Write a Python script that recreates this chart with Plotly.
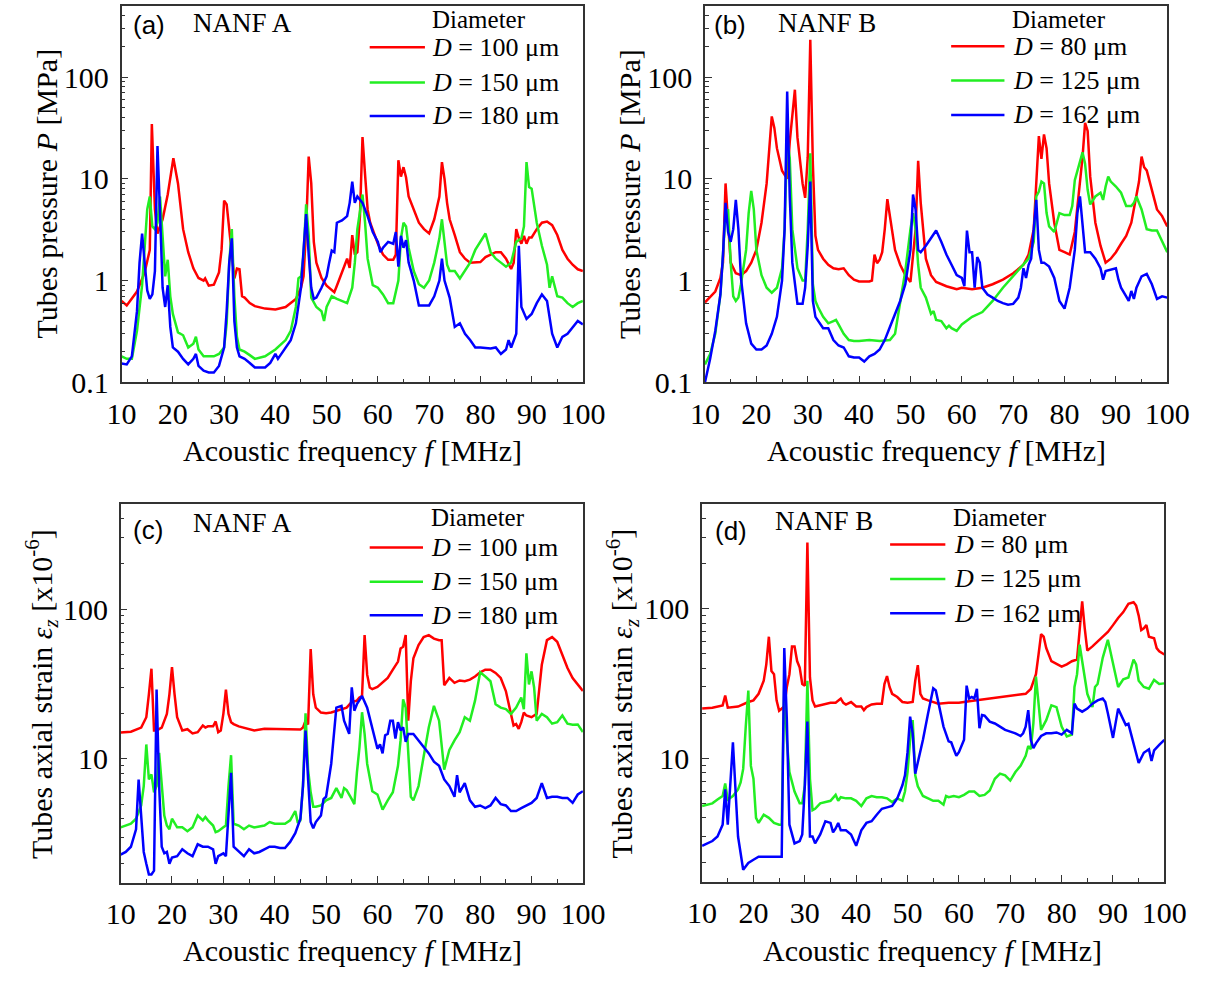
import math
import plotly.graph_objects as go

# ---------------- data ----------------
# Panel (a) NANF A, tubes pressure P [MPa]
f_a_100 = [10, 11, 13, 14.5, 15.5, 15.9, 16.5, 17, 18, 19, 20.1, 21, 22, 23, 24, 25, 26, 26.3, 27, 28, 29, 29.5, 30, 30.5, 31, 32, 32.5, 33, 33.5, 34, 35, 36, 38, 40, 42, 43, 44, 45, 45.5, 46, 46.5, 47, 47.5, 48, 49, 50, 51, 51.5, 52, 53, 54, 54.5, 55, 55.5, 56, 56.5, 57, 57.5, 58, 58.5, 59, 60, 61, 62, 63, 63.5, 64, 64.5, 65, 65.5, 66, 67, 68, 69, 70, 71, 72, 72.5, 73, 73.5, 74, 75, 76, 77, 78, 80, 81, 82, 83, 84, 85, 86, 86.5, 87, 87.5, 88, 88.5, 89, 89.5, 90, 91, 92, 93, 94, 95, 96, 97, 98, 99, 100]
p_a_100 = [0.63, 0.57, 0.78, 1.2, 2.0, 34.5, 5.0, 2.9, 4.0, 7.0, 15.9, 9.0, 3.2, 1.9, 1.32, 1.06, 1.0, 1.05, 0.89, 0.91, 1.2, 2.0, 6.1, 5.6, 3.2, 1.05, 1.31, 1.29, 0.7, 0.68, 0.6, 0.56, 0.53, 0.52, 0.55, 0.6, 0.66, 0.85, 1.1, 3.2, 16.5, 9.0, 2.4, 1.5, 1.06, 0.89, 0.80, 0.77, 0.89, 1.24, 1.64, 1.33, 2.8, 1.8, 1.9, 4.3, 25.7, 11, 5, 3.7, 3.2, 2.3, 1.8, 1.6, 1.6, 1.8, 15.2, 10.5, 13, 10.3, 6.7, 5.0, 3.7, 3.2, 2.9, 4.0, 6.7, 14.6, 10, 5.8, 4.0, 2.8, 1.9, 1.64, 1.5, 1.52, 1.7, 1.8, 1.9, 1.9, 1.64, 1.3, 1.5, 3.2, 2.6, 2.3, 2.75, 2.3, 2.65, 2.65, 3.2, 3.7, 3.8, 3.5, 2.8, 2.0, 1.64, 1.43, 1.29, 1.24]

f_a_150 = [10, 11, 12, 13, 14, 14.5, 15, 15.5, 16, 16.5, 17, 17.5, 18, 18.5, 19, 19.5, 20, 21, 22, 23, 24, 24.5, 25, 26, 28, 29, 30, 30.5, 31, 31.5, 32, 32.5, 33, 34, 35, 36, 38, 40, 42, 43, 44, 44.5, 45, 45.5, 46, 46.5, 47, 47.5, 48, 49, 49.5, 50, 51, 52, 53, 54, 55, 55.5, 56, 57, 57.5, 58, 59, 60, 61, 62, 63, 64, 64.5, 65, 65.5, 66, 67, 68, 69, 70, 71, 72, 72.5, 73, 73.5, 74, 75, 76, 77, 78, 79, 80, 81, 82, 83, 84, 85, 86, 87, 88, 88.5, 89, 89.5, 90, 91, 92, 93, 93.5, 94, 95, 96, 97, 98, 99, 100]
p_a_150 = [0.18, 0.17, 0.17, 0.32, 0.9, 2.2, 5, 6.7, 3.4, 3.2, 3.7, 6.7, 2.8, 1.1, 1.6, 0.7, 0.47, 0.31, 0.29, 0.22, 0.24, 0.28, 0.21, 0.18, 0.18, 0.19, 0.22, 0.38, 1.5, 3.2, 0.7, 0.28, 0.21, 0.2, 0.185, 0.17, 0.18, 0.21, 0.26, 0.32, 0.55, 1.05, 1.1, 1.8, 5.6, 2.8, 0.68, 0.6, 0.55, 0.5, 0.4, 0.55, 0.7, 0.66, 0.63, 0.6, 0.85, 1.5, 3.2, 7.0, 3.7, 1.64, 0.9, 0.85, 0.73, 0.6, 0.6, 1.0, 2.6, 3.7, 3.4, 2.1, 1.24, 0.92, 0.85, 1.0, 1.5, 2.6, 4.0, 2.4, 1.43, 1.24, 1.24, 1.05, 1.24, 1.5, 2.0, 2.4, 2.9, 1.9, 1.64, 1.5, 1.37, 1.5, 2.4, 2.6, 3.4, 14.6, 8.3, 8.0, 3.7, 2.2, 1.43, 0.85, 1.1, 0.7, 0.68, 0.6, 0.55, 0.6, 0.63]

f_a_180 = [10, 11, 12, 13, 13.5, 14, 14.5, 15, 15.5, 16, 16.5, 17, 17.5, 18, 18.5, 19, 19.5, 20, 21, 22, 23, 24, 24.5, 25, 26, 27, 28, 29, 30, 30.5, 31, 31.5, 32, 32.5, 33, 34, 35, 36, 38, 39, 40, 40.5, 41, 42, 43, 44, 45, 45.5, 46, 46.5, 47, 47.5, 48, 49, 50, 50.5, 51, 51.5, 52, 53, 54, 54.5, 55, 55.5, 56, 57, 58, 59, 60, 60.5, 61, 62, 63, 63.5, 64, 64.5, 65, 65.5, 66, 67, 68, 69, 70, 71, 72, 72.5, 73, 74, 74.5, 75, 76, 77, 78, 79, 80, 82, 83, 84, 85, 85.5, 86, 87, 87.5, 88, 89, 90, 91, 92, 93, 94, 95, 96, 97, 98, 99, 100]
p_a_180 = [0.153, 0.15, 0.18, 0.5, 1.5, 2.9, 1.5, 0.8, 0.66, 0.73, 1.24, 21, 4.6, 0.85, 0.55, 0.9, 0.35, 0.22, 0.2, 0.17, 0.15, 0.17, 0.19, 0.145, 0.13, 0.125, 0.125, 0.145, 0.22, 0.5, 1.5, 2.6, 0.4, 0.22, 0.18, 0.17, 0.155, 0.14, 0.14, 0.155, 0.19, 0.17, 0.185, 0.22, 0.26, 0.38, 0.85, 2.0, 4.5, 1.8, 0.85, 0.66, 0.68, 0.85, 1.1, 1.5, 1.97, 1.9, 3.7, 3.9, 4.3, 5.8, 9.4, 5.8, 6.7, 5.8, 4.3, 3.0, 2.4, 1.9, 2.1, 2.4, 2.3, 3.0, 1.37, 2.75, 2.1, 2.5, 1.5, 1.0, 0.57, 0.57, 0.57, 0.7, 1.0, 1.64, 1.0, 0.68, 0.47, 0.35, 0.38, 0.3, 0.26, 0.22, 0.22, 0.215, 0.22, 0.19, 0.21, 0.26, 0.22, 0.3, 2.2, 0.55, 0.42, 0.47, 0.6, 0.73, 0.63, 0.3, 0.22, 0.28, 0.3, 0.35, 0.4, 0.37]

# Panel (b) NANF B, tubes pressure P [MPa]
f_b_80 = [10, 12, 13, 13.5, 14, 14.5, 15, 16, 17, 18, 19, 20, 21, 22, 23, 23.5, 24, 25, 26, 26.5, 27, 27.5, 28, 29, 29.5, 30, 30.5, 31, 31.5, 32, 33, 34, 35, 36, 37, 38, 39, 40, 41, 42, 42.5, 43, 43.5, 44, 44.5, 45, 45.5, 46, 47, 48, 49, 50, 50.5, 51, 51.5, 52, 53, 54, 55, 56, 57, 58, 59, 60, 62, 64, 66, 68, 70, 72, 73, 74, 74.5, 75, 75.5, 76, 76.5, 77, 78, 79, 80, 81, 82, 83, 83.5, 84, 84.5, 85, 86, 87, 88, 89, 90, 91, 92, 93, 94, 94.5, 95, 95.5, 96, 97, 98, 99, 100]
p_b_80 = [0.61, 0.78, 1.06, 1.5, 9.0, 3.2, 1.5, 1.18, 1.13, 1.24, 1.5, 2.0, 3.7, 9.0, 41, 31.6, 20, 12, 10, 23, 45.6, 75, 25.5, 9, 6.5, 16.3, 232, 14, 2.75, 2.0, 1.64, 1.43, 1.32, 1.29, 1.32, 1.13, 1.02, 0.98, 0.98, 0.98, 1.0, 1.8, 1.48, 1.6, 1.9, 3.2, 6.3, 4.3, 2.0, 1.43, 1.13, 0.97, 1.64, 3.2, 15, 5.8, 1.64, 1.13, 0.97, 0.92, 0.88, 0.85, 0.82, 0.85, 0.82, 0.85, 0.92, 1.02, 1.18, 1.43, 1.8, 3.2, 9.0, 26.3, 15.7, 27.3, 20, 9, 3.7, 2.0, 1.9, 1.8, 3.0, 9, 16.3, 35.4, 29.5, 10.5, 3.7, 2.2, 1.5, 1.64, 1.9, 2.3, 2.75, 3.7, 6.7, 9.4, 16.5, 13, 12.1, 7.8, 5.0, 4.3, 3.4]

f_b_125 = [10, 11, 12, 13, 13.5, 14, 14.5, 15, 15.5, 16, 16.5, 17, 18, 18.5, 19, 19.5, 20, 21, 22, 23, 24, 25, 25.5, 26, 26.5, 27, 28, 29, 29.5, 30, 30.5, 31, 31.5, 32, 33, 34, 35, 35.5, 36, 37, 38, 39, 40, 42, 44, 46, 47, 48, 49, 50, 50.5, 51, 51.5, 52, 53, 54, 54.5, 55, 56, 57, 57.5, 58, 59, 60, 62, 64, 66, 68, 70, 72, 73, 74, 74.5, 75, 75.5, 76, 76.5, 77, 78, 79, 80, 81, 81.5, 82, 83, 83.5, 84, 84.5, 85, 86, 87, 87.5, 88, 88.5, 89, 90, 91, 92, 93, 93.5, 94, 95, 96, 97, 98, 99, 100]
p_b_125 = [0.15, 0.19, 0.3, 0.73, 1.8, 4.6, 5.0, 1.5, 0.7, 0.63, 0.68, 0.92, 2.0, 4.6, 7.6, 5.0, 2.0, 1.13, 0.85, 0.76, 0.85, 1.32, 3.2, 25.5, 16, 3.2, 1.32, 1.0, 1.0, 3.2, 17.8, 0.92, 0.63, 0.55, 0.44, 0.38, 0.4, 0.41, 0.37, 0.3, 0.26, 0.255, 0.255, 0.26, 0.255, 0.26, 0.3, 0.6, 1.24, 3.2, 4.6, 3.2, 1.43, 0.85, 0.68, 0.47, 0.5, 0.41, 0.4, 0.34, 0.36, 0.34, 0.32, 0.37, 0.44, 0.49, 0.63, 0.85, 1.1, 1.43, 1.64, 2.4, 6.7, 7.5, 9.4, 9, 4.6, 3.4, 3.0, 4.6, 4.4, 4.4, 5.4, 9.7, 15.2, 18.2, 14.1, 7.8, 5.6, 6.7, 7.3, 6.2, 8.4, 10.5, 9.4, 8.4, 7.3, 5.4, 5.4, 5.8, 6.7, 5.0, 3.2, 3.1, 3.1, 2.4, 1.9]

f_b_162 = [10, 11, 12, 13, 13.5, 14, 14.5, 15, 15.5, 16, 16.5, 17, 18, 19, 20, 21, 22, 23, 24, 25, 25.5, 26, 26.5, 27, 28, 29, 29.5, 30, 30.5, 31, 31.5, 32, 33, 34, 35, 36, 37, 38, 39, 40, 41, 42, 43, 44, 45, 46, 47, 48, 49, 50, 50.5, 51, 51.5, 52, 53, 54, 55, 56, 57, 58, 59, 60, 60.5, 61, 61.5, 62, 62.5, 63, 63.5, 64, 65, 66, 67, 68, 69, 70, 71, 71.5, 72, 72.5, 73, 73.5, 74, 74.5, 75, 75.5, 76, 77, 78, 79, 80, 81, 82, 82.5, 83, 83.5, 84, 85, 86, 87, 87.5, 88, 89, 90, 90.5, 91, 92, 92.5, 93, 93.5, 94, 95, 96, 97, 98, 99, 100]
p_b_162 = [0.1, 0.17, 0.32, 0.73, 1.8, 5.8, 3.0, 2.4, 3.2, 6.2, 3.2, 1.06, 0.38, 0.24, 0.21, 0.21, 0.23, 0.3, 0.44, 1.0, 3.2, 72, 6.7, 1.5, 0.59, 0.59, 0.85, 2.2, 9.4, 0.63, 0.44, 0.4, 0.34, 0.34, 0.26, 0.23, 0.22, 0.18, 0.175, 0.175, 0.16, 0.18, 0.19, 0.21, 0.26, 0.35, 0.47, 0.63, 0.92, 2.0, 7.0, 5.0, 2.0, 1.9, 2.2, 2.6, 3.1, 2.4, 1.8, 1.43, 1.13, 1.06, 0.88, 3.1, 1.9, 1.9, 0.85, 1.7, 1.5, 0.85, 0.73, 0.68, 0.63, 0.6, 0.58, 0.59, 0.68, 0.85, 1.32, 1.06, 1.43, 1.64, 3.2, 6.2, 2.0, 1.5, 1.5, 1.37, 1.06, 0.63, 0.53, 0.85, 2.0, 4.6, 6.7, 3.2, 1.9, 1.9, 1.64, 1.32, 1.02, 1.24, 1.29, 1.32, 1.02, 0.85, 0.7, 0.63, 0.79, 0.66, 0.85, 1.1, 1.16, 0.92, 0.66, 0.7, 0.68]

# Panel (c) NANF A, tubes axial strain [x1e-6]
f_c_100 = [10, 12, 14, 15, 15.5, 16, 16.5, 17, 18, 19, 19.5, 20, 20.5, 21, 22, 23, 24, 25, 26, 26.5, 27, 28, 28.5, 29, 29.5, 30, 30.5, 31, 31.5, 32, 33, 34, 35, 36, 38, 40, 42, 44, 45, 45.5, 46, 46.5, 47, 47.5, 48, 49, 50, 51, 52, 53, 54, 55, 56, 56.5, 57, 57.5, 58, 58.5, 59, 60, 61, 62, 63, 64, 64.5, 65, 65.5, 66, 66.5, 67, 68, 69, 70, 71, 72, 72.5, 73, 74, 75, 76, 77, 78, 79, 80, 81, 82, 83, 84, 85, 86, 86.5, 87, 87.5, 88, 88.5, 89, 90, 91, 91.5, 92, 93, 94, 95, 96, 97, 98, 99, 100]
e_c_100 = [15.0, 15.2, 16.2, 19, 27, 40, 15.5, 15.5, 16.2, 20, 27, 41, 27, 19, 15.5, 15.8, 14.8, 15.1, 16.7, 16.2, 16.5, 16.5, 17.8, 15.1, 15.5, 20, 29, 20, 17.6, 17.1, 16.5, 16.2, 15.9, 15.5, 15.9, 15.8, 15.7, 15.7, 15.7, 16.2, 18, 17, 54, 27, 22, 20.4, 20.2, 20.4, 21, 21.5, 22, 24, 24.5, 25.7, 26.3, 67, 36.5, 30, 29.2, 30.2, 32.2, 34.7, 39.4, 44.6, 54.6, 56, 67, 18, 33, 47, 57.5, 65, 67, 63.5, 62, 62, 31, 34.7, 32.2, 33.4, 33, 33.8, 35.5, 37.8, 39.4, 39.4, 37.5, 34.7, 28.4, 20, 16.7, 17.1, 15.9, 17.6, 20.4, 19.5, 19, 20, 30, 42.5, 62, 65, 60.5, 49.4, 40.4, 34.7, 31.4, 28.4]

f_c_150 = [10, 12, 13, 14, 14.5, 15, 15.5, 16, 16.5, 17, 17.5, 18, 18.5, 19, 19.5, 20, 21, 22, 23, 24, 25, 26, 26.5, 27, 28, 28.5, 29, 30, 30.5, 31, 31.5, 32, 33, 34, 35, 36, 38, 39, 40, 42, 43, 44, 44.5, 45, 45.5, 46, 46.5, 47, 47.5, 48, 49, 50, 51, 52, 53, 53.5, 54, 55, 55.5, 56, 56.5, 57, 57.5, 58, 58.5, 59, 60, 61, 62, 63, 64, 64.5, 65, 65.5, 66, 66.5, 67, 68, 69, 70, 71, 72, 73, 74, 75, 76, 77, 78, 79, 80, 81, 82, 83, 84, 85, 86, 87, 88, 88.5, 89, 89.5, 90, 90.5, 91, 92, 93, 94, 95, 96, 97, 98, 99, 100]
e_c_150 = [3.5, 3.7, 4.0, 4.9, 6.6, 12.5, 7.3, 7.9, 6.0, 6.6, 11.0, 6.6, 4.2, 3.6, 3.4, 4.0, 3.5, 3.5, 3.3, 3.5, 4.2, 3.9, 4.1, 3.9, 3.6, 3.25, 3.3, 3.5, 3.6, 6.6, 10.6, 3.7, 3.6, 3.4, 3.6, 3.5, 3.6, 3.8, 3.7, 3.7, 3.9, 4.5, 3.75, 3.9, 6.6, 20.2, 8.5, 6.0, 4.8, 4.8, 4.9, 5.3, 5.5, 6.4, 5.5, 6.4, 6.2, 5.4, 5.0, 8.1, 12.0, 20.5, 14.7, 9.3, 7.3, 6.1, 5.8, 4.6, 5.3, 6.0, 9.0, 13.3, 25, 22, 11, 5.6, 5.3, 6.6, 10.4, 16.3, 22.6, 18, 8.5, 11.5, 13.3, 15.1, 19, 18, 24.5, 37.8, 35.5, 33, 23.2, 22, 21.5, 20, 22, 25.7, 21.5, 50.6, 31.4, 38.4, 30, 18, 20, 19, 17.2, 17.6, 19.5, 17.2, 16.9, 17.0, 15.1]

f_c_180 = [10, 11, 12, 13, 13.5, 14, 14.5, 15, 15.5, 16, 16.5, 17, 17.5, 18, 18.5, 19, 19.5, 20, 21, 22, 23, 24, 25, 26, 27, 28, 28.5, 29, 30, 30.5, 31, 31.5, 32, 33, 34, 35, 36, 37, 38, 39, 40, 41, 42, 43, 44, 45, 45.5, 46, 46.5, 47, 47.5, 48, 49, 49.5, 50, 51, 52, 53, 53.5, 54, 54.5, 55, 55.5, 56, 57, 58, 59, 60, 60.5, 61, 61.5, 62, 62.5, 63, 63.5, 64, 64.5, 65, 65.5, 66, 67, 68, 69, 70, 71, 72, 73, 74, 75, 75.5, 76, 77, 78, 79, 80, 81, 82, 83, 84, 85, 86, 87, 88, 89, 90, 91, 92, 93, 94, 95, 96, 97, 98, 99, 100]
e_c_180 = [2.3, 2.4, 2.6, 3.4, 7.3, 4.4, 2.4, 2.0, 1.7, 1.7, 1.8, 29, 6.6, 2.6, 2.35, 2.4, 2.0, 2.2, 2.25, 2.5, 2.35, 2.25, 2.7, 2.6, 2.6, 2.5, 2.0, 2.25, 2.35, 2.25, 4.0, 8.1, 2.6, 2.4, 2.25, 2.5, 2.35, 2.4, 2.5, 2.6, 2.6, 2.55, 2.55, 2.8, 3.2, 4.0, 6.6, 15.5, 7.3, 3.8, 3.45, 3.8, 4.2, 5.4, 5.6, 9.3, 22, 22.6, 18, 16.3, 14.7, 30, 21, 23.2, 26.3, 22, 16.3, 11.7, 12.5, 10.9, 14.4, 14.7, 18, 18, 13.7, 17.6, 15.5, 16.3, 13.0, 14.7, 14.7, 13.3, 12.1, 10.9, 9.6, 9.0, 7.3, 6.6, 5.6, 7.8, 6.0, 6.9, 5.3, 4.8, 4.9, 4.7, 4.9, 5.5, 5.0, 4.9, 4.5, 4.5, 4.7, 4.9, 5.1, 5.5, 6.9, 5.5, 5.6, 5.6, 5.5, 5.5, 5.1, 5.8, 6.1]

# Panel (d) NANF B, tubes axial strain [x1e-6]
f_d_80 = [10, 12, 14, 14.5, 15, 17, 19, 20, 21, 22, 22.5, 23, 23.5, 24, 24.5, 25, 26, 26.5, 27, 27.5, 28, 28.5, 29, 29.5, 30, 30.5, 31, 31.5, 32, 33, 34, 35, 36, 37, 37.5, 38, 39, 40, 41, 41.5, 42, 43, 44, 45, 45.5, 46, 46.5, 47, 48, 49, 50, 51, 51.5, 52, 52.5, 53, 54, 55, 56, 58, 60, 62, 64, 66, 68, 70, 72, 73, 74, 75, 75.5, 76, 76.5, 77, 78, 79, 80, 81, 82, 83, 83.5, 84, 84.5, 85, 86, 87, 88, 89, 90, 91, 92, 93, 94, 94.5, 95, 95.5, 96, 96.5, 97, 98, 98.5, 99, 100]
e_d_80 = [21.5, 21.8, 22.6, 26.3, 21.8, 22.2, 23.8, 24.4, 27, 33, 42.5, 65, 38.4, 36.5, 24.4, 20.8, 22.2, 30, 36.5, 56, 56, 44.7, 40.4, 31.4, 30.6, 277, 34.7, 24.4, 22.2, 22.6, 23.2, 23.5, 23.5, 25.1, 23.5, 22.9, 23.8, 22.2, 22.2, 21, 22, 22.9, 23.2, 23.2, 31.4, 35.5, 30, 27, 25.7, 23.8, 23.5, 23.8, 33, 42, 27, 25.1, 24.4, 23.8, 23.2, 23.5, 23.5, 24.1, 24.6, 25.2, 25.7, 26.3, 27, 27, 29.1, 36.5, 49.4, 67.5, 65, 54.6, 44.6, 42.5, 41, 42.5, 44.6, 45.8, 74, 112, 74, 52.5, 56, 60.5, 65, 70, 77.7, 86.8, 95, 108, 110.6, 105, 90, 72, 74, 77.7, 65, 63.5, 54.6, 52, 49.4]

f_d_125 = [10, 12, 13, 14, 14.5, 15, 16, 17, 17.5, 18, 18.5, 19, 19.5, 20, 20.5, 21, 22, 23, 24, 25, 25.5, 26, 26.5, 27, 28, 29, 29.5, 30, 30.5, 31, 31.5, 32, 33, 34, 35, 36, 36.5, 37, 38, 39, 40, 41, 42, 43, 44, 45, 46, 47, 48, 49, 49.5, 50, 50.5, 51, 51.5, 52, 53, 54, 55, 56, 57, 57.5, 58, 59, 60, 61, 62, 63, 64, 65, 66, 67, 68, 69, 70, 71, 72, 73, 73.5, 74, 74.5, 75, 75.5, 76, 77, 78, 79, 80, 81, 82, 82.5, 83, 83.5, 84, 85, 86, 86.5, 87, 88, 89, 90, 91, 92, 93, 94, 94.5, 95, 96, 97, 98, 99, 100]
e_d_125 = [4.8, 5.0, 5.3, 5.6, 6.8, 5.3, 5.6, 6.2, 6.9, 8.5, 16.3, 28.4, 8.9, 7.3, 4.0, 3.7, 4.2, 4.0, 3.7, 3.6, 3.6, 31.4, 13.3, 8.1, 6.0, 5.0, 5.0, 6.6, 33, 7.3, 4.5, 4.6, 5.0, 5.1, 5.2, 5.7, 5.2, 5.5, 5.4, 5.4, 5.2, 4.8, 5.4, 5.6, 5.5, 5.5, 5.4, 5.1, 5.4, 5.2, 6.0, 8.1, 13.3, 18, 7.7, 6.5, 5.6, 5.4, 5.2, 5.2, 4.9, 5.6, 5.5, 5.6, 5.5, 5.7, 6.0, 6.0, 5.6, 5.7, 6.1, 7.3, 7.9, 7.7, 7.1, 8.1, 8.9, 10.4, 12.1, 11.5, 17.2, 35.2, 23.2, 15.5, 18, 22.6, 22, 16.3, 14.0, 14.4, 30, 36.5, 57.5, 44.6, 27, 22, 30, 31.4, 47, 62, 43.5, 30, 33.8, 34.7, 45.8, 42.5, 33, 30, 29.2, 33.4, 31.4, 31.7]

f_d_162 = [10, 12, 13, 14, 14.5, 15, 16, 16.5, 17, 18, 19, 20, 21, 22, 24, 25, 25.5, 26, 26.5, 27, 28, 29, 29.5, 30, 30.5, 31, 31.5, 32, 33, 34, 35, 35.5, 36, 36.5, 37, 38, 39, 40, 41, 42, 43, 44, 45, 46, 47, 48, 49, 49.5, 50, 50.5, 51, 51.5, 52, 53, 54, 55, 55.5, 56, 57, 58, 58.5, 59, 59.5, 60, 61, 61.5, 62, 62.5, 63, 63.5, 64, 64.5, 65, 66, 67, 68, 69, 70, 71, 72, 72.5, 73, 73.5, 74, 74.5, 75, 76, 77, 78, 79, 80, 81, 82, 82.5, 83, 84, 85, 86, 87, 88, 88.5, 89, 90, 91, 92, 92.5, 93, 94, 95, 96, 97, 97.5, 98, 99, 100]
e_d_162 = [2.6, 2.8, 3.0, 3.6, 6.2, 3.6, 12.8, 6.6, 3.0, 1.8, 2.0, 2.1, 2.2, 2.2, 2.2, 2.2, 2.2, 54.6, 18, 3.6, 2.7, 2.8, 3.1, 6.6, 17.6, 3.0, 3.0, 2.7, 3.1, 3.8, 3.7, 3.2, 3.4, 3.7, 3.3, 3.3, 3.1, 2.6, 3.3, 3.7, 3.8, 4.2, 4.6, 4.7, 4.8, 5.4, 6.6, 7.7, 11.0, 19, 14.7, 7.9, 9.3, 13.3, 20, 29.4, 28.4, 23.2, 16.3, 13, 12.8, 11.5, 10.4, 11.0, 13.3, 30.6, 25.1, 25.7, 25.1, 29.1, 15.9, 19.5, 19.3, 17.6, 17.1, 16.3, 15.5, 15.1, 14.7, 14.1, 14.7, 16.3, 21, 13.3, 11.7, 12.6, 14.1, 14.7, 14.7, 14.9, 14.4, 15.5, 14.7, 23.2, 21.5, 20.5, 21.5, 23.2, 24.4, 25.1, 23.8, 20, 13.7, 21.5, 18, 16.7, 17.0, 12.6, 9.3, 10.9, 11.5, 9.6, 11.3, 12.3, 13.3]

x_ticks = [10, 20, 30, 40, 50, 60, 70, 80, 90, 100]
x_minor = [15, 25, 35, 45, 55, 65, 75, 85, 95]
p_ticks = [0.1, 1, 10, 100]
p_ticktext = ["0.1", "1", "10", "100"]
e_ticks = [10, 100]
e_ticktext = ["10", "100"]
labels_A = ["<i>D</i> = 100 μm", "<i>D</i> = 150 μm", "<i>D</i> = 180 μm"]
labels_B = ["<i>D</i> = 80 μm", "<i>D</i> = 125 μm", "<i>D</i> = 162 μm"]

# ---------------- styling ----------------
W, H = 1230, 989
SERIF = "Liberation Serif, Times New Roman, serif"
SANS = "Liberation Sans, Arial, sans-serif"
COLORS = ["#ff0000", "#22ee22", "#0000ff"]
AXC = "#333333"


def PX(x):
    return x / W


def PY(y):
    return 1 - y / H


def log_minor(lo, hi):
    vals = []
    for e in range(-2, 4):
        for k in range(2, 10):
            v = k * 10 ** e
            if lo < v < hi:
                vals.append(v)
    return vals


panels = [
    dict(key="", box=(110, 586, 6, 389), series=[(f_a_100, p_a_100), (f_a_150, p_a_150), (f_a_180, p_a_180)],
         labels=labels_A, yr=(0.1, 500), ticks=(p_ticks, p_ticktext), tag="(a)", fiber="NANF A",
         tagxy=(120, 25), fibxy=(182, 23), diaxy=(428, 20), legx=(366, 423, 428), legy=(48, 84, 118),
         ytitle="Tubes pressure <i>P</i> [MPa]", ytxy=(33, 197), xtxy=(348, 458)),
    dict(key="2", box=(712, 1189, 6, 389), series=[(f_b_80, p_b_80), (f_b_125, p_b_125), (f_b_162, p_b_162)],
         labels=labels_B, yr=(0.1, 500), ticks=(p_ticks, p_ticktext), tag="(b)", fiber="NANF B",
         tagxy=(719, 25), fibxy=(785, 23), diaxy=(1027, 20), legx=(966, 1021, 1028), legy=(47, 82, 117),
         ytitle="Tubes pressure <i>P</i> [MPa]", ytxy=(634, 197), xtxy=(951, 458)),
    dict(key="3", box=(109, 586, 513, 898), series=[(f_c_100, e_c_100), (f_c_150, e_c_150), (f_c_180, e_c_180)],
         labels=labels_A, yr=(1.5, 500), ticks=(e_ticks, e_ticktext), tag="(c)", fiber="NANF A",
         tagxy=(120, 539), fibxy=(182, 532), diaxy=(427, 527), legx=(366, 421, 427), legy=(557, 592, 626),
         ytitle="Tubes axial strain <i>ε<sub>z</sub></i> [x10<sup>-6</sup>]", ytxy=(28, 706), xtxy=(348, 967)),
    dict(key="4", box=(709, 1186, 513, 897), series=[(f_d_80, e_d_80), (f_d_125, e_d_125), (f_d_162, e_d_162)],
         labels=labels_B, yr=(1.5, 500), ticks=(e_ticks, e_ticktext), tag="(d)", fiber="NANF B",
         tagxy=(720, 540), fibxy=(782, 530), diaxy=(966, 527), legx=(903, 960, 967), legy=(554, 589, 624),
         ytitle="Tubes axial strain <i>ε<sub>z</sub></i> [x10<sup>-6</sup>]", ytxy=(627, 706), xtxy=(947, 967)),
]

fig = go.Figure()
annotations = []
shapes = []
layout_axes = {}

for p in panels:
    k = p["key"]
    x0, x1, y0, y1 = p["box"]
    for (fx, vy), col, lab in zip(p["series"], COLORS, p["labels"]):
        if len(fx) != len(vy):
            raise ValueError(f"length mismatch in panel {p['tag']} {lab}: {len(fx)} vs {len(vy)}")
        fig.add_trace(go.Scatter(x=fx, y=vy, mode="lines", name=lab.replace("<i>", "").replace("</i>", ""),
                                 line=dict(color=col, width=2.5), xaxis="x" + k, yaxis="y" + k,
                                 showlegend=False))
    lo, hi = p["yr"]
    tv, tt = p["ticks"]
    layout_axes["xaxis" + k] = dict(
        domain=[PX(x0), PX(x1)], anchor="y" + k, range=[10, 100],
        tickmode="array", tickvals=x_ticks, ticktext=[str(v) for v in x_ticks],
        ticks="inside", ticklen=7, tickwidth=1.2, tickcolor=AXC, ticklabelstandoff=4,
        minor=dict(tickmode="array", tickvals=x_minor, ticks="inside", ticklen=4, tickwidth=1, tickcolor=AXC, showgrid=False),
        showline=True, linecolor=AXC, linewidth=1.5, mirror=True, showgrid=False, zeroline=False,
        tickfont=dict(family=SERIF, size=30, color="black"))
    layout_axes["yaxis" + k] = dict(
        domain=[PY(y1), PY(y0)], anchor="x" + k, type="log", range=[math.log10(lo), math.log10(hi)],
        tickmode="array", tickvals=tv, ticktext=tt,
        ticks="inside", ticklen=7, tickwidth=1.2, tickcolor=AXC, ticklabelstandoff=5,
        minor=dict(tickmode="array", tickvals=log_minor(lo, hi), ticks="inside", ticklen=4, tickwidth=1, tickcolor=AXC, showgrid=False),
        showline=True, linecolor=AXC, linewidth=1.5, mirror=True, showgrid=False, zeroline=False,
        tickfont=dict(family=SERIF, size=30, color="black"))

    # panel texts
    annotations.append(dict(text=p["tag"], x=PX(p["tagxy"][0]), y=PY(p["tagxy"][1]), xref="paper", yref="paper",
                            xanchor="left", yanchor="middle", showarrow=False,
                            font=dict(family=SANS, size=26, color="black")))
    annotations.append(dict(text=p["fiber"], x=PX(p["fibxy"][0]), y=PY(p["fibxy"][1]), xref="paper", yref="paper",
                            xanchor="left", yanchor="middle", showarrow=False,
                            font=dict(family=SERIF, size=27, color="black")))
    annotations.append(dict(text="Diameter", x=PX(p["diaxy"][0]), y=PY(p["diaxy"][1]), xref="paper", yref="paper",
                            xanchor="left", yanchor="middle", showarrow=False,
                            font=dict(family=SERIF, size=25, color="black")))
    lx0, lx1, tx = p["legx"]
    for ly, col, lab in zip(p["legy"], COLORS, p["labels"]):
        shapes.append(dict(type="line", xref="paper", yref="paper", x0=PX(lx0), x1=PX(lx1), y0=PY(ly), y1=PY(ly),
                           line=dict(color=col, width=2.5)))
        annotations.append(dict(text=lab, x=PX(tx), y=PY(ly), xref="paper", yref="paper",
                                xanchor="left", yanchor="middle", showarrow=False,
                                font=dict(family=SERIF, size=26, color="black")))
    # axis titles
    annotations.append(dict(text=p["ytitle"], x=PX(p["ytxy"][0]), y=PY(p["ytxy"][1]), xref="paper", yref="paper",
                            xanchor="center", yanchor="middle", textangle=-90, showarrow=False,
                            font=dict(family=SERIF, size=30, color="black")))
    annotations.append(dict(text="Acoustic frequency <i>f</i> [MHz]", x=PX(p["xtxy"][0]), y=PY(p["xtxy"][1]),
                            xref="paper", yref="paper", xanchor="center", yanchor="middle", showarrow=False,
                            font=dict(family=SERIF, size=30, color="black")))

fig.update_layout(
    width=W, height=H, autosize=False,
    margin=dict(l=0, r=0, t=0, b=0),
    paper_bgcolor="white", plot_bgcolor="white",
    showlegend=False,
    annotations=annotations, shapes=shapes,
    **layout_axes,
)

# remove the default page margin so the figure sits exactly in the window
fig.write_html("out.html",
               config={"displayModeBar": False},
               post_script="document.body.style.margin='0px';document.body.style.overflow='hidden';")
